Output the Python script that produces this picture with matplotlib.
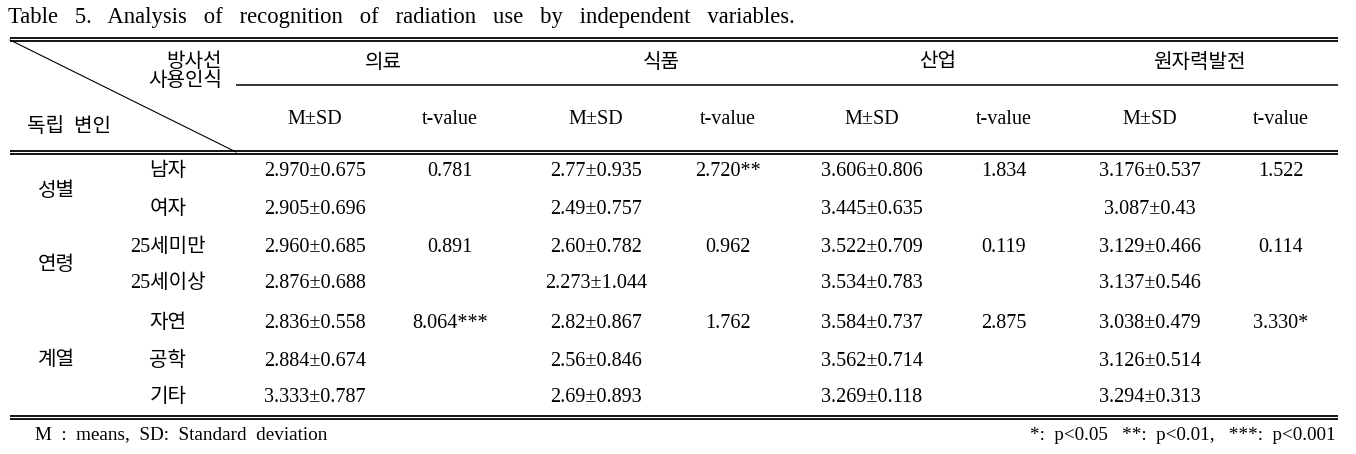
import matplotlib.pyplot as plt

# ----------------------------
# Table data
# ----------------------------
title = "Table 5. Analysis of recognition of radiation use by independent variables."
categories = ["의료", "식품", "산업", "원자력발전"]
sub_headers = ["M±SD", "t-value"]
groups = ["성별", "연령", "계열"]
subgroups = [["남자", "여자"], ["25세미만", "25세이상"], ["자연", "공학", "기타"]]

m_sd = {
    "의료": ["2.970±0.675", "2.905±0.696", "2.960±0.685", "2.876±0.688",
             "2.836±0.558", "2.884±0.674", "3.333±0.787"],
    "식품": ["2.77±0.935", "2.49±0.757", "2.60±0.782", "2.273±1.044",
             "2.82±0.867", "2.56±0.846", "2.69±0.893"],
    "산업": ["3.606±0.806", "3.445±0.635", "3.522±0.709", "3.534±0.783",
             "3.584±0.737", "3.562±0.714", "3.269±0.118"],
    "원자력발전": ["3.176±0.537", "3.087±0.43", "3.129±0.466", "3.137±0.546",
              "3.038±0.479", "3.126±0.514", "3.294±0.313"],
}
# one t-value per group (shown on the first row of the group)
t_values = {
    "의료": ["0.781", "0.891", "8.064***"],
    "식품": ["2.720**", "0.962", "1.762"],
    "산업": ["1.834", "0.119", "2.875"],
    "원자력발전": ["1.522", "0.114", "3.330*"],
}
corner_top = "방사선\n사용인식"
corner_bottom = "독립  변인"
note_left = "M : means, SD: Standard deviation"
note_right = ["*: p<0.05", "**: p<0.01,", "***: p<0.001"]

# ----------------------------
# Layout (pixel coordinates)
# ----------------------------
W, H = 1356, 454
FONT = ["Liberation Serif", "Noto Sans CJK KR", "DejaVu Sans"]
FS = 14.5
LEFT, RIGHT = 10, 1338
DIAG_X = 236
row_y = [172, 210, 247, 284, 323, 361, 398]
group_x, sub_x = 56, 168
cat_x = [383, 661, 938, 1199]
col_x = [(315, 450), (596, 728), (872, 1004), (1150, 1281)]

fig = plt.figure(figsize=(W / 100, H / 100), dpi=100)
ax = fig.add_axes([0, 0, 1, 1])
ax.set_xlim(0, W)
ax.set_ylim(H, 0)
ax.axis("off")


def txt(x, y, s, ha="center", size=FS, **kw):
    ax.text(x, y, s, ha=ha, va="center", fontsize=size, family=FONT,
            color="black", **kw)


def hline(y, x0=LEFT, x1=RIGHT, lw=1.3):
    ax.plot([x0, x1], [y, y], color="black", lw=lw, solid_capstyle="butt")


# the scanned caption is set with very wide word spacing
txt(8, 17, "   ".join(title.split()), ha="left", size=16.3)

# rules
hline(37.5); hline(40.7)
hline(85, DIAG_X, RIGHT, lw=1.1)
hline(150.5); hline(153.7)
hline(416); hline(419.2)
ax.plot([LEFT, DIAG_X], [40, 152], color="black", lw=0.8)

# header
txt(222, 72, corner_top, ha="right", linespacing=1.05)
txt(27, 127, corner_bottom, ha="left")
for cat, cx, (mx, tx) in zip(categories, cat_x, col_x):
    txt(cx, 63, cat)
    txt(mx, 120, sub_headers[0])
    txt(tx, 120, sub_headers[1])

# body
r = 0
for g, subs in enumerate(subgroups):
    ys = row_y[r:r + len(subs)]
    txt(group_x, sum(ys) / len(ys), groups[g])
    for i, s in enumerate(subs):
        txt(sub_x, ys[i], s)
        for cat, (mx, tx) in zip(categories, col_x):
            txt(mx, ys[i], m_sd[cat][r + i])
            if i == 0:
                txt(tx, ys[i], t_values[cat][g])
    r += len(subs)

# footnotes
txt(35, 435, "  ".join(note_left.split()), ha="left", size=13.8)
txt(1336, 435, "   ".join(n.replace(": ", ":  ") for n in note_right),
    ha="right", size=13.8)

fig.savefig("out.png", dpi=100, facecolor="white")
